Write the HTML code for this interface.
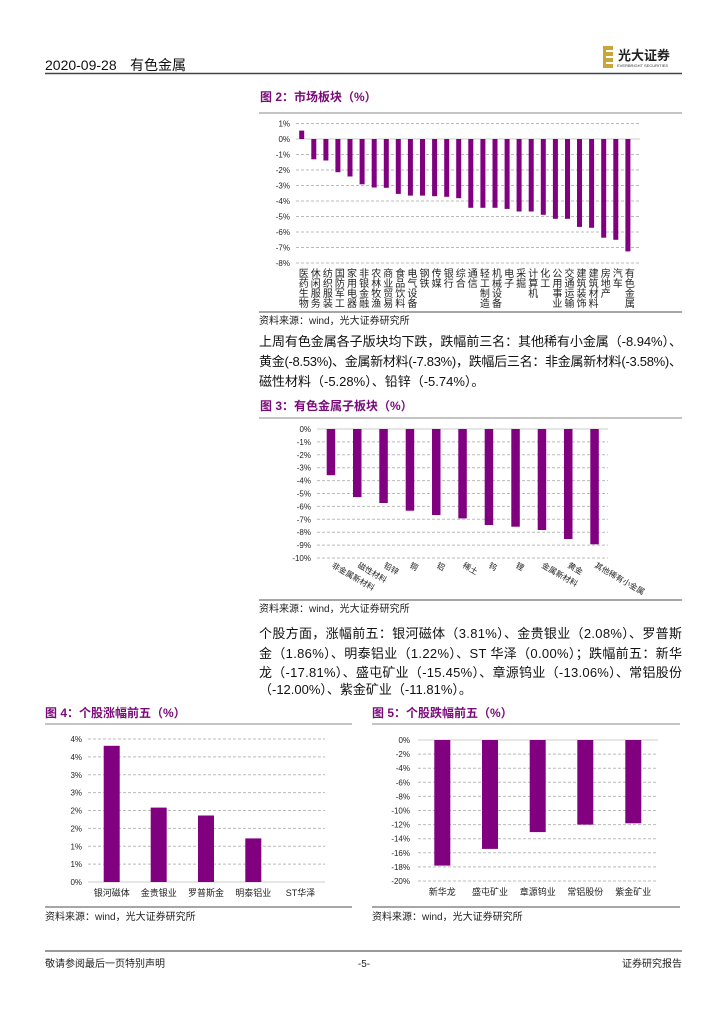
<!DOCTYPE html>
<html><head><meta charset="utf-8"><style>
html,body{margin:0;padding:0;background:#fff;}
svg{display:block;font-family:"Liberation Sans","Noto Sans CJK SC",sans-serif;}
.t{font-size:8px;fill:#222;text-anchor:end}
.g{stroke:#bbb;stroke-width:1;stroke-dasharray:3,2}
.b{fill:#800080}
.v{font-size:10px;fill:#222;writing-mode:vertical-rl}
.xl{font-size:9px;fill:#222;text-anchor:middle}
.ti{font-size:12px;font-weight:bold;fill:#7a0a7a}
.src{font-size:10px;fill:#222}
.p{font-size:13px;fill:#111}
</style></head><body>
<svg width="724" height="1024" viewBox="0 0 724 1024">
<!-- header -->
<text x="45" y="70" font-size="14" fill="#111">2020-09-28</text>
<text x="130" y="70" font-size="14" fill="#111">有色金属</text>
<line x1="45" y1="73.5" x2="682" y2="73.5" stroke="#444" stroke-width="1.5"/>
<rect x="603" y="46" width="10" height="22" fill="#c9a53a"/>
<rect x="606" y="50" width="7" height="2" fill="#fff"/><rect x="606" y="56" width="7" height="2" fill="#fff"/><rect x="606" y="62" width="7" height="2" fill="#fff"/>
<text x="618" y="60" font-size="13" font-weight="bold" fill="#222">光大证券</text>
<text x="617" y="67" font-size="4" fill="#333">EVERBRIGHT SECURITIES</text>

<!-- Fig 2 -->
<text x="260" y="101" class="ti">图 2：市场板块（%）</text>
<line x1="259" y1="113" x2="682" y2="113" stroke="#888" stroke-width="1"/>
<g>
<line class="g" x1="296" y1="123.5" x2="640" y2="123.5"/>
<line x1="296" y1="139" x2="640" y2="139" stroke="#ccc"/>
<line class="g" x1="296" y1="154.5" x2="640" y2="154.5"/>
<line class="g" x1="296" y1="170" x2="640" y2="170"/>
<line class="g" x1="296" y1="185.5" x2="640" y2="185.5"/>
<line class="g" x1="296" y1="201" x2="640" y2="201"/>
<line class="g" x1="296" y1="216.5" x2="640" y2="216.5"/>
<line class="g" x1="296" y1="232" x2="640" y2="232"/>
<line class="g" x1="296" y1="247.5" x2="640" y2="247.5"/>
<line class="g" x1="296" y1="263" x2="640" y2="263"/>
<text class="t" x="290" y="126.5">1%</text>
<text class="t" x="290" y="142">0%</text>
<text class="t" x="290" y="157.5">-1%</text>
<text class="t" x="290" y="173">-2%</text>
<text class="t" x="290" y="188.5">-3%</text>
<text class="t" x="290" y="204">-4%</text>
<text class="t" x="290" y="219.5">-5%</text>
<text class="t" x="290" y="235">-6%</text>
<text class="t" x="290" y="250.5">-7%</text>
<text class="t" x="290" y="266">-8%</text>
<rect class="b" x="299.2" y="130.6" width="5" height="8.4"/>
<rect class="b" x="311.3" y="139" width="5" height="20.3"/>
<rect class="b" x="323.4" y="139" width="5" height="21.5"/>
<rect class="b" x="335.4" y="139" width="5" height="33.2"/>
<rect class="b" x="347.5" y="139" width="5" height="37.5"/>
<rect class="b" x="359.6" y="139" width="5" height="45.3"/>
<rect class="b" x="371.7" y="139" width="5" height="48.5"/>
<rect class="b" x="383.8" y="139" width="5" height="48.8"/>
<rect class="b" x="395.8" y="139" width="5" height="54.9"/>
<rect class="b" x="407.9" y="139" width="5" height="56.6"/>
<rect class="b" x="420.0" y="139" width="5" height="56.6"/>
<rect class="b" x="432.1" y="139" width="5" height="57.2"/>
<rect class="b" x="444.2" y="139" width="5" height="57.8"/>
<rect class="b" x="456.2" y="139" width="5" height="59.2"/>
<rect class="b" x="468.3" y="139" width="5" height="68.8"/>
<rect class="b" x="480.4" y="139" width="5" height="68.8"/>
<rect class="b" x="492.5" y="139" width="5" height="68.8"/>
<rect class="b" x="504.6" y="139" width="5" height="69.9"/>
<rect class="b" x="516.6" y="139" width="5" height="72.5"/>
<rect class="b" x="528.7" y="139" width="5" height="72.5"/>
<rect class="b" x="540.8" y="139" width="5" height="75.8"/>
<rect class="b" x="552.9" y="139" width="5" height="79.8"/>
<rect class="b" x="565.0" y="139" width="5" height="79.8"/>
<rect class="b" x="577.0" y="139" width="5" height="87.9"/>
<rect class="b" x="589.1" y="139" width="5" height="88.8"/>
<rect class="b" x="601.2" y="139" width="5" height="98.7"/>
<rect class="b" x="613.3" y="139" width="5" height="100.8"/>
<rect class="b" x="625.4" y="139" width="5" height="112.4"/>
<text class="v" x="301.7" y="268">医药生物</text>
<text class="v" x="313.8" y="268">休闲服务</text>
<text class="v" x="325.9" y="268">纺织服装</text>
<text class="v" x="337.9" y="268">国防军工</text>
<text class="v" x="350.0" y="268">家用电器</text>
<text class="v" x="362.1" y="268">非银金融</text>
<text class="v" x="374.2" y="268">农林牧渔</text>
<text class="v" x="386.3" y="268">商业贸易</text>
<text class="v" x="398.3" y="268">食品饮料</text>
<text class="v" x="410.4" y="268">电气设备</text>
<text class="v" x="422.5" y="268">钢铁</text>
<text class="v" x="434.6" y="268">传媒</text>
<text class="v" x="446.7" y="268">银行</text>
<text class="v" x="458.7" y="268">综合</text>
<text class="v" x="470.8" y="268">通信</text>
<text class="v" x="482.9" y="268">轻工制造</text>
<text class="v" x="495.0" y="268">机械设备</text>
<text class="v" x="507.1" y="268">电子</text>
<text class="v" x="519.1" y="268">采掘</text>
<text class="v" x="531.2" y="268">计算机</text>
<text class="v" x="543.3" y="268">化工</text>
<text class="v" x="555.4" y="268">公用事业</text>
<text class="v" x="567.5" y="268">交通运输</text>
<text class="v" x="579.5" y="268">建筑装饰</text>
<text class="v" x="591.6" y="268">建筑材料</text>
<text class="v" x="603.7" y="268">房地产</text>
<text class="v" x="615.8" y="268">汽车</text>
<text class="v" x="627.9" y="268">有色金属</text>
</g>
<line x1="259" y1="312" x2="682" y2="312" stroke="#888" stroke-width="1.5"/>
<text class="src" x="259" y="324">资料来源：wind，光大证券研究所</text>

<text class="p" x="259" y="346" textLength="423" lengthAdjust="spacing">上周有色金属各子版块均下跌，跌幅前三名：其他稀有小金属（-8.94%）、</text>
<text class="p" x="259" y="366" textLength="423" lengthAdjust="spacing">黄金(-8.53%)、金属新材料(-7.83%)，跌幅后三名：非金属新材料(-3.58%)、</text>
<text class="p" x="259" y="386">磁性材料（-5.28%）、铅锌（-5.74%）。</text>

<!-- Fig 3 -->
<text x="260" y="410" class="ti">图 3：有色金属子板块（%）</text>
<line x1="259" y1="418" x2="682" y2="418" stroke="#888" stroke-width="1"/>
<g>
<line x1="317" y1="429" x2="608" y2="429" stroke="#ccc"/>
<line class="g" x1="317" y1="441.9" x2="608" y2="441.9"/>
<line class="g" x1="317" y1="454.8" x2="608" y2="454.8"/>
<line class="g" x1="317" y1="467.7" x2="608" y2="467.7"/>
<line class="g" x1="317" y1="480.6" x2="608" y2="480.6"/>
<line class="g" x1="317" y1="493.5" x2="608" y2="493.5"/>
<line class="g" x1="317" y1="506.4" x2="608" y2="506.4"/>
<line class="g" x1="317" y1="519.3" x2="608" y2="519.3"/>
<line class="g" x1="317" y1="532.2" x2="608" y2="532.2"/>
<line class="g" x1="317" y1="545.1" x2="608" y2="545.1"/>
<line class="g" x1="317" y1="558" x2="608" y2="558"/>
<text class="t" x="311" y="432">0%</text>
<text class="t" x="311" y="444.9">-1%</text>
<text class="t" x="311" y="457.8">-2%</text>
<text class="t" x="311" y="470.7">-3%</text>
<text class="t" x="311" y="483.6">-4%</text>
<text class="t" x="311" y="496.5">-5%</text>
<text class="t" x="311" y="509.4">-6%</text>
<text class="t" x="311" y="522.3">-7%</text>
<text class="t" x="311" y="535.2">-8%</text>
<text class="t" x="311" y="548.1">-9%</text>
<text class="t" x="311" y="561">-10%</text>
<rect class="b" x="326.7" y="429" width="8.5" height="46.2"/>
<rect class="b" x="353" y="429" width="8.5" height="68.1"/>
<rect class="b" x="379.3" y="429" width="8.5" height="74"/>
<rect class="b" x="405.7" y="429" width="8.5" height="81.7"/>
<rect class="b" x="432" y="429" width="8.5" height="86"/>
<rect class="b" x="458.3" y="429" width="8.5" height="89.4"/>
<rect class="b" x="484.7" y="429" width="8.5" height="96"/>
<rect class="b" x="511.3" y="429" width="8.5" height="97.7"/>
<rect class="b" x="537.7" y="429" width="8.5" height="101"/>
<rect class="b" x="564" y="429" width="8.5" height="110"/>
<rect class="b" x="590.3" y="429" width="8.5" height="115.3"/>
<g font-size="8" fill="#222">
<text transform="translate(331,567) rotate(30)">非金属新材料</text>
<text transform="translate(357,567) rotate(30)">磁性材料</text>
<text transform="translate(383,567) rotate(30)">铅锌</text>
<text transform="translate(409,567) rotate(30)">铜</text>
<text transform="translate(436,567) rotate(30)">铝</text>
<text transform="translate(462,567) rotate(30)">稀土</text>
<text transform="translate(488,567) rotate(30)">钨</text>
<text transform="translate(515,567) rotate(30)">锂</text>
<text transform="translate(541,567) rotate(30)">金属新材料</text>
<text transform="translate(567,567) rotate(30)">黄金</text>
<text transform="translate(594,567) rotate(30)">其他稀有小金属</text>
</g>
</g>
<line x1="259" y1="600" x2="682" y2="600" stroke="#888" stroke-width="1.5"/>
<text class="src" x="259" y="612">资料来源：wind，光大证券研究所</text>

<text class="p" x="259" y="638" textLength="423" lengthAdjust="spacing">个股方面，涨幅前五：银河磁体（3.81%）、金贵银业（2.08%）、罗普斯</text>
<text class="p" x="259" y="658" textLength="423" lengthAdjust="spacing">金（1.86%）、明泰铝业（1.22%）、ST 华泽（0.00%）；跌幅前五：新华</text>
<text class="p" x="259" y="677" textLength="423" lengthAdjust="spacing">龙（-17.81%）、盛屯矿业（-15.45%）、章源钨业（-13.06%）、常铝股份</text>
<text class="p" x="259" y="694">（-12.00%）、紫金矿业（-11.81%）。</text>

<!-- Fig 4 -->
<text x="45" y="717" class="ti">图 4：个股涨幅前五（%）</text>
<line x1="45" y1="724" x2="352" y2="724" stroke="#888" stroke-width="1"/>
<g>
<line class="g" x1="88" y1="739" x2="325" y2="739"/>
<line class="g" x1="88" y1="756.9" x2="325" y2="756.9"/>
<line class="g" x1="88" y1="774.8" x2="325" y2="774.8"/>
<line class="g" x1="88" y1="792.6" x2="325" y2="792.6"/>
<line class="g" x1="88" y1="810.5" x2="325" y2="810.5"/>
<line class="g" x1="88" y1="828.4" x2="325" y2="828.4"/>
<line class="g" x1="88" y1="846.3" x2="325" y2="846.3"/>
<line class="g" x1="88" y1="864.1" x2="325" y2="864.1"/>
<line x1="88" y1="882" x2="325" y2="882" stroke="#ccc"/>
<text class="t" x="82" y="742">4%</text>
<text class="t" x="82" y="759.9">4%</text>
<text class="t" x="82" y="777.8">3%</text>
<text class="t" x="82" y="795.6">3%</text>
<text class="t" x="82" y="813.5">2%</text>
<text class="t" x="82" y="831.4">2%</text>
<text class="t" x="82" y="849.3">1%</text>
<text class="t" x="82" y="867.1">1%</text>
<text class="t" x="82" y="885">0%</text>
<rect class="b" x="103.7" y="745.8" width="16" height="136.2"/>
<rect class="b" x="150.7" y="807.6" width="16" height="74.4"/>
<rect class="b" x="198" y="815.5" width="16" height="66.5"/>
<rect class="b" x="245.3" y="838.4" width="16" height="43.6"/>
<text class="xl" x="111.7" y="896">银河磁体</text>
<text class="xl" x="158.7" y="896">金贵银业</text>
<text class="xl" x="206" y="896">罗普斯金</text>
<text class="xl" x="253.3" y="896">明泰铝业</text>
<text class="xl" x="300.5" y="896">ST华泽</text>
</g>
<line x1="45" y1="907" x2="352" y2="907" stroke="#888" stroke-width="1.5"/>
<text class="src" x="45" y="920">资料来源：wind，光大证券研究所</text>

<!-- Fig 5 -->
<text x="372" y="717" class="ti">图 5：个股跌幅前五（%）</text>
<line x1="372" y1="724" x2="680" y2="724" stroke="#888" stroke-width="1"/>
<g>
<line x1="418" y1="740" x2="658" y2="740" stroke="#ccc"/>
<line class="g" x1="418" y1="754.1" x2="658" y2="754.1"/>
<line class="g" x1="418" y1="768.2" x2="658" y2="768.2"/>
<line class="g" x1="418" y1="782.3" x2="658" y2="782.3"/>
<line class="g" x1="418" y1="796.4" x2="658" y2="796.4"/>
<line class="g" x1="418" y1="810.5" x2="658" y2="810.5"/>
<line class="g" x1="418" y1="824.6" x2="658" y2="824.6"/>
<line class="g" x1="418" y1="838.7" x2="658" y2="838.7"/>
<line class="g" x1="418" y1="852.8" x2="658" y2="852.8"/>
<line class="g" x1="418" y1="866.9" x2="658" y2="866.9"/>
<line class="g" x1="418" y1="881" x2="658" y2="881"/>
<text class="t" x="410" y="743">0%</text>
<text class="t" x="410" y="757.1">-2%</text>
<text class="t" x="410" y="771.2">-4%</text>
<text class="t" x="410" y="785.3">-6%</text>
<text class="t" x="410" y="799.4">-8%</text>
<text class="t" x="410" y="813.5">-10%</text>
<text class="t" x="410" y="827.6">-12%</text>
<text class="t" x="410" y="841.7">-14%</text>
<text class="t" x="410" y="855.8">-16%</text>
<text class="t" x="410" y="869.9">-18%</text>
<text class="t" x="410" y="884">-20%</text>
<rect class="b" x="434.3" y="740" width="16" height="125.6"/>
<rect class="b" x="482" y="740" width="16" height="108.9"/>
<rect class="b" x="529.7" y="740" width="16" height="92.1"/>
<rect class="b" x="577.3" y="740" width="16" height="84.6"/>
<rect class="b" x="625.3" y="740" width="16" height="83.3"/>
<text class="xl" x="442.3" y="895">新华龙</text>
<text class="xl" x="490" y="895">盛屯矿业</text>
<text class="xl" x="537.7" y="895">章源钨业</text>
<text class="xl" x="585.3" y="895">常铝股份</text>
<text class="xl" x="633.3" y="895">紫金矿业</text>
</g>
<line x1="372" y1="907" x2="680" y2="907" stroke="#888" stroke-width="1.5"/>
<text class="src" x="372" y="920">资料来源：wind，光大证券研究所</text>

<!-- footer -->
<line x1="45" y1="951" x2="682" y2="951" stroke="#333" stroke-width="1"/>
<text x="45" y="967" font-size="10" fill="#222">敬请参阅最后一页特别声明</text>
<text x="364" y="967" font-size="10" fill="#222" text-anchor="middle">-5-</text>
<text x="682" y="967" font-size="10" fill="#222" text-anchor="end">证券研究报告</text>
</svg>
</body></html>
